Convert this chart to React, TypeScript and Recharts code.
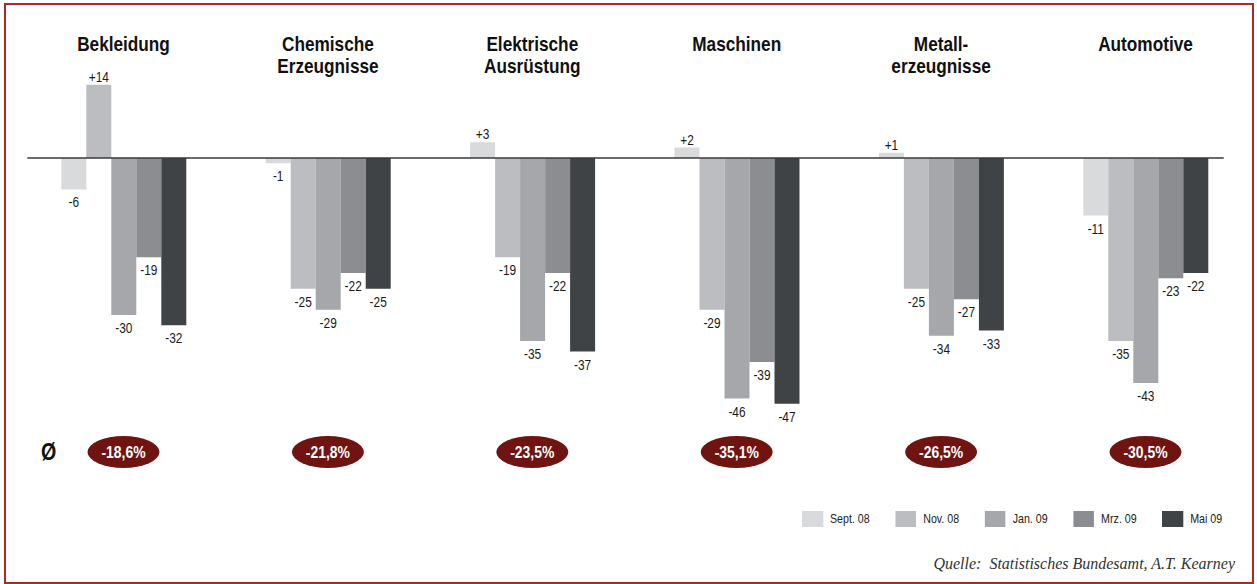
import React from "react";
import { BarChart, Bar, XAxis, YAxis, ReferenceLine, LabelList, Legend } from "recharts";

const categories = ["Bekleidung", "Chemische Erzeugnisse", "Elektrische Ausrüstung", "Maschinen", "Metallerzeugnisse", "Automotive"];
const titleLines = [["Bekleidung"], ["Chemische", "Erzeugnisse"], ["Elektrische", "Ausrüstung"], ["Maschinen"], ["Metall-", "erzeugnisse"], ["Automotive"]];
const sept08 = [-6, -1, 3, 2, 1, -11];
const nov08 = [14, -25, -19, -29, -25, -35];
const jan09 = [-30, -29, -35, -46, -34, -43];
const mrz09 = [-19, -22, -22, -39, -27, -23];
const mai09 = [-32, -25, -37, -47, -33, -22];
const averages = ["-18,6%", "-21,8%", "-23,5%", "-35,1%", "-26,5%", "-30,5%"];
const averageSymbol = "Ø";
const seriesKeys = ["sept08", "nov08", "jan09", "mrz09", "mai09"];
const seriesNames = ["Sept. 08", "Nov. 08", "Jan. 09", "Mrz. 09", "Mai 09"];
const seriesColors = ["#d9dadc", "#bcbdc1", "#a5a7ab", "#8c8d91", "#3f4346"];
const yDomain = [-50, 20];
const source = "Quelle:  Statistisches Bundesamt, A.T. Kearney";

const seriesValues = [sept08, nov08, jan09, mrz09, mai09];
const data = categories.map((name, i) => {
  const row: Record<string, any> = { name };
  seriesKeys.forEach((k, s) => {
    row[k] = seriesValues[s][i];
  });
  return row;
});

const SANS = '"Liberation Sans", Arial, sans-serif';
const SQUEEZE = 0.82;

const NText = ({ x, y, size, bold, fill, anchor = "middle", children }: any) => (
  <text
    transform={`translate(${x},${y}) scale(${SQUEEZE},1)`}
    textAnchor={anchor}
    fontFamily={SANS}
    fontSize={size}
    fontWeight={bold ? "bold" : "normal"}
    fill={fill}
  >
    {children}
  </text>
);

const CategoryTick = (props: any) => {
  const { x, index } = props;
  const lines = titleLines[index] || [];
  return (
    <g>
      {lines.map((l, i) => (
        <NText key={i} x={x} y={51 + i * 21.5} size={21} bold fill="#111">
          {l}
        </NText>
      ))}
      <ellipse cx={x} cy={452} rx={36} ry={16} fill="#701412" />
      <NText x={x} y={458} size={17} bold fill="#fff">
        {averages[index]}
      </NText>
      {index === 0 ? (
        <NText x={41} y={460} size={24} bold fill="#111" anchor="start">
          {averageSymbol}
        </NText>
      ) : null}
    </g>
  );
};

const ValueLabel = (props: any) => {
  const { x, y, width, height, value } = props;
  const top = Math.min(y, y + height);
  const bottom = Math.max(y, y + height);
  const cx = x + width / 2;
  const neg = value < 0;
  return (
    <NText x={cx} y={neg ? bottom + 18 : top - 3} size={14.5} fill="#1a1a1a">
      {neg ? String(value) : `+${value}`}
    </NText>
  );
};

const ZeroLine = (props: any) => {
  const { x1, x2, y1, y2 } = props;
  return <line x1={x1 + 6} x2={x2 - 24} y1={y1} y2={y2} stroke="#3a3a3a" strokeWidth={1.3} />;
};

const LegendContent = () => (
  <div
    style={{
      display: "flex",
      alignItems: "center",
      fontFamily: SANS,
      fontSize: 13,
      color: "#222",
      whiteSpace: "nowrap",
      transform: `scaleX(${SQUEEZE})`,
      transformOrigin: "left center",
      width: 600,
      height: 16,
    }}
  >
    {seriesNames.map((n, i) => (
      <div key={n} style={{ display: "flex", alignItems: "center", marginRight: 25.5 / SQUEEZE }}>
        <div style={{ width: 21 / SQUEEZE, height: 16, background: seriesColors[i], marginRight: 7 / SQUEEZE }} />
        <span style={{ lineHeight: "16px" }}>{n}</span>
      </div>
    ))}
  </div>
);

export default function App() {
  return (
    <div style={{ position: "absolute", left: 0, top: 0, width: 1257, height: 584, background: "#fff" }}>
      <div
        style={{
          position: "absolute",
          left: 4,
          top: 3,
          width: 1246,
          height: 577,
          border: "2px solid #ad2a24",
        }}
      />
      <BarChart
        width={1257}
        height={584}
        data={data}
        barGap={0}
        barSize={25}
        margin={{ top: 52.4, right: 9.3, bottom: 164.5, left: 21.3 }}
        style={{ position: "absolute", left: 0, top: 0 }}
      >
        <XAxis
          dataKey="name"
          orientation="top"
          height={1}
          axisLine={false}
          tickLine={false}
          interval={0}
          tick={<CategoryTick />}
        />
        <YAxis hide type="number" domain={yDomain} allowDataOverflow />
        {seriesKeys.map((k, i) => (
          <Bar key={k} dataKey={k} name={seriesNames[i]} fill={seriesColors[i]} isAnimationActive={false}>
            <LabelList dataKey={k} content={<ValueLabel />} />
          </Bar>
        ))}
        <ReferenceLine y={0} shape={<ZeroLine />} />
        <Legend
          layout="horizontal"
          verticalAlign="middle"
          align="center"
          content={<LegendContent />}
          wrapperStyle={{ position: "absolute", left: 802, top: 510.5, width: 440, height: 16 }}
        />
      </BarChart>
      <div
        style={{
          position: "absolute",
          left: 0,
          top: 554,
          width: 1235,
          textAlign: "right",
          fontFamily: '"Liberation Serif", serif',
          fontStyle: "italic",
          fontSize: 16,
          lineHeight: "19px",
          color: "#333",
          whiteSpace: "pre",
        }}
      >
        {source}
      </div>
    </div>
  );
}
